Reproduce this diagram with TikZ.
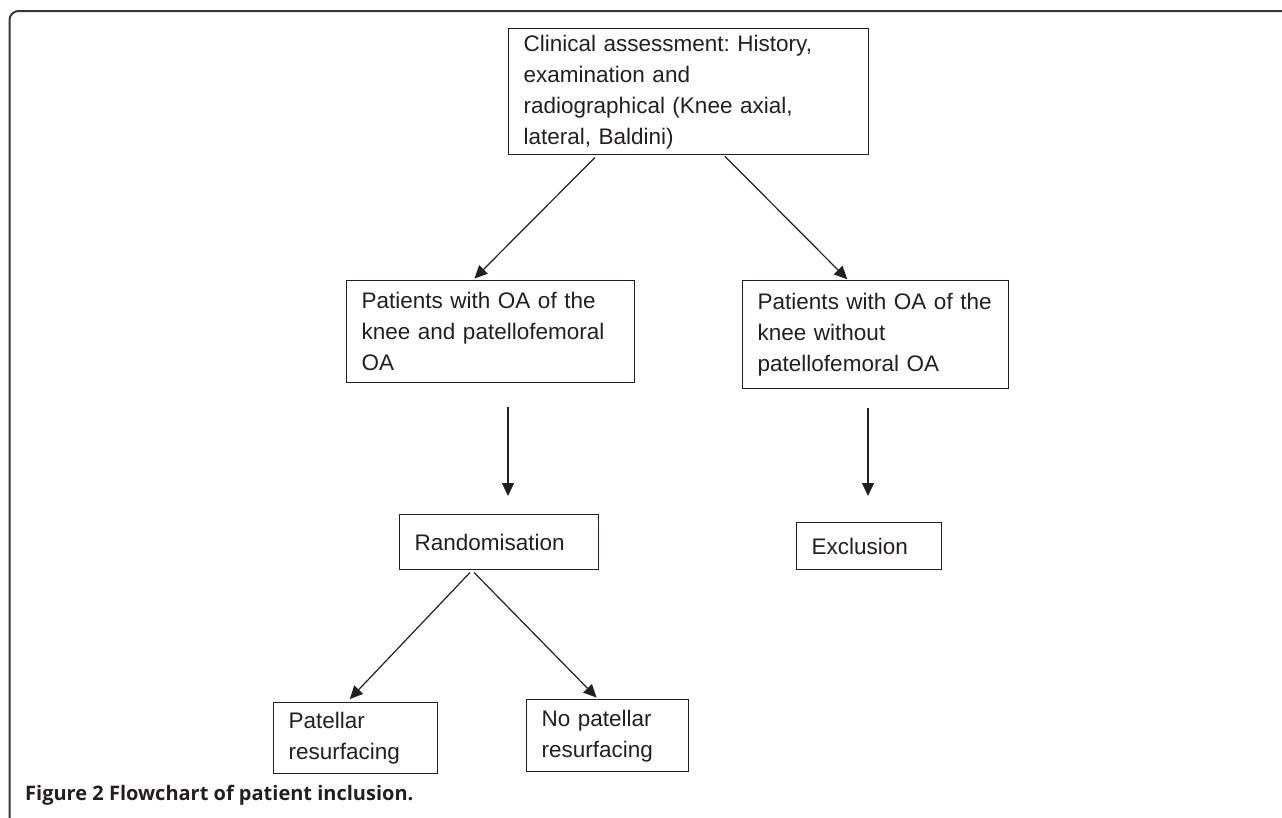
\documentclass[tikz,border=0pt]{standalone}
\usepackage{fontspec}
\setmainfont{Liberation Sans}
\newfontfamily\capfont{Open Sans}
\usetikzlibrary{arrows.meta}
\definecolor{ink}{HTML}{231F20}
\frenchspacing
\begin{document}
\begin{tikzpicture}[x=1pt,y=-1pt,
  flowbox/.style={draw=ink,line width=1.4pt,anchor=north west,align=left,
    inner xsep=15pt,inner ysep=0pt,text=ink,
    font=\fontsize{22.5}{31}\selectfont},
  flowarr/.style={draw=ink,line width=1.2pt,-{Triangle[length=13pt,width=12pt]}}]
\useasboundingbox (0,0) rectangle (1282,817);
%frame
\draw[ink!90,line width=2pt,rounded corners=9pt] (9.5,818) -- (9.5,11) -- (1283,11);
%boxes
\node[flowbox,minimum width=360,minimum height=126,text width=330] (clin) at (508,28)
  {Clinical assessment: History,\\examination and\\radiographical (Knee axial,\\lateral, Baldini)};
\node[flowbox,minimum width=288,minimum height=102,text width=258] (pfoa) at (346,280)
  {Patients with OA of the\\knee and patellofemoral\\OA};
\node[flowbox,minimum width=266,minimum height=108,text width=236] (nopfoa) at (742,280)
  {Patients with OA of the\\knee without\\patellofemoral OA};
\node[flowbox,minimum width=199,minimum height=55,text width=169] (rand) at (399,514)
  {Randomisation};
\node[flowbox,minimum width=145,minimum height=47,text width=115] (excl) at (796,522)
  {Exclusion};
\node[flowbox,minimum width=164,minimum height=71,text width=134] (resurf) at (273,702)
  {Patellar\\resurfacing};
\node[flowbox,minimum width=162,minimum height=72,text width=132] (noresurf) at (526,699)
  {No patellar\\resurfacing};
%arrows
\draw[flowarr,shorten <=3pt,shorten >=2pt] (597,0 |- clin.south) -- (473,0 |- pfoa.north);
\draw[flowarr,shorten <=1pt,shorten >=1pt] (724,0 |- clin.south) -- (848,0 |- nopfoa.north);
\draw[flowarr,shorten <=24pt,shorten >=18pt] (508,0 |- pfoa.south) -- (508,0 |- rand.north);
\draw[flowarr,shorten <=19pt,shorten >=26pt] (868,0 |- nopfoa.south) -- (868,0 |- excl.north);
\draw[flowarr,shorten <=3pt,shorten >=4pt] (472,0 |- rand.south) -- (347,0 |- resurf.north);
\draw[flowarr,shorten <=3pt,shorten >=2pt] (472,0 |- rand.south) -- (598,0 |- noresurf.north);
%caption
\node[anchor=base west,inner sep=0pt,text=ink,font=\capfont\bfseries\fontsize{20}{24}\selectfont] (cap) at (25,800)
  {Figure 2 Flowchart of patient inclusion.};
\end{tikzpicture}
\end{document}
